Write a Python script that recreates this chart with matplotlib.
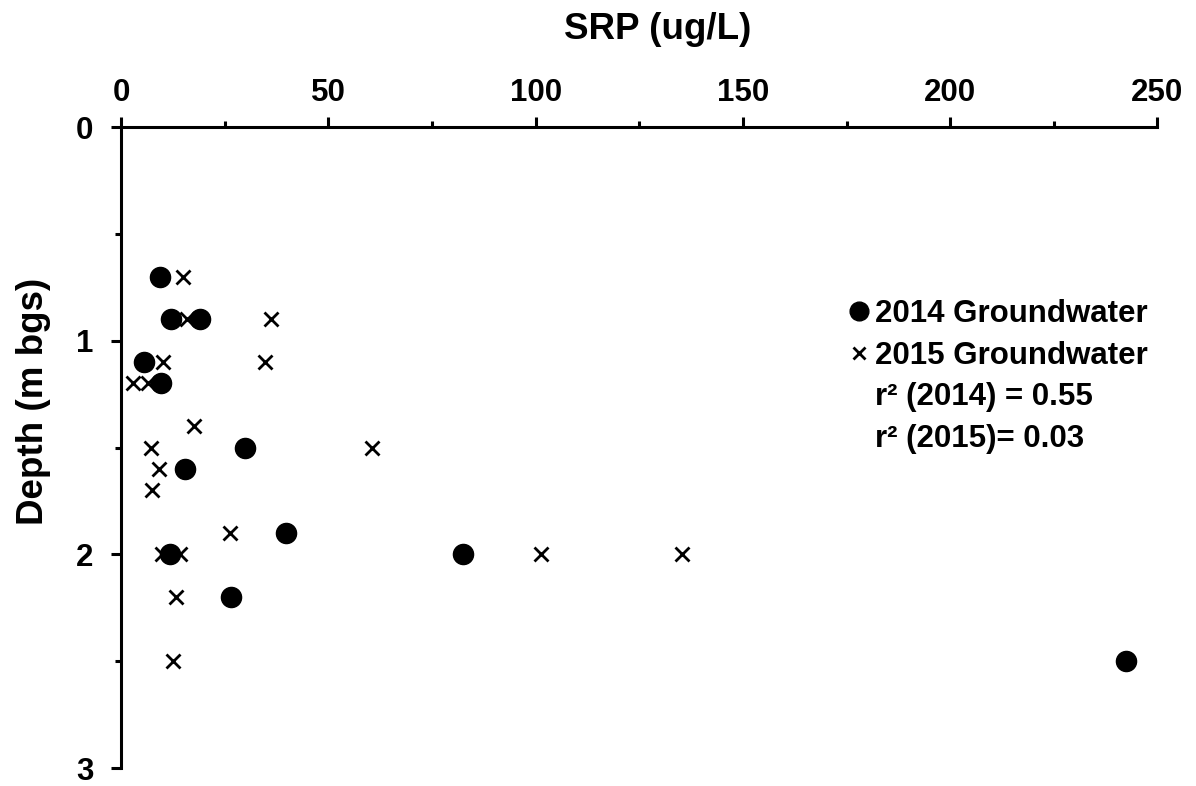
import numpy as np
import matplotlib.pyplot as plt
from matplotlib.lines import Line2D
from matplotlib.ticker import MultipleLocator

# SRP (ug/L) vs depth (m bgs)
srp_2014 = [9.4, 12.0, 19.0, 5.6, 9.6, 30.0, 15.4, 39.7, 11.7, 82.5, 26.5, 242.4]
depth_2014 = [0.7, 0.9, 0.9, 1.1, 1.2, 1.5, 1.6, 1.9, 2.0, 2.0, 2.2, 2.5]

srp_2015 = [15.0, 15.8, 36.1, 10.2, 34.7, 3.0, 6.6, 17.7, 7.2, 60.6, 9.2, 7.4,
            26.4, 9.8, 14.2, 101.3, 135.3, 13.3, 12.6]
depth_2015 = [0.7, 0.9, 0.9, 1.1, 1.1, 1.2, 1.2, 1.4, 1.5, 1.5, 1.6, 1.7,
              1.9, 2.0, 2.0, 2.0, 2.0, 2.2, 2.5]

legend_labels = ['2014 Groundwater', '2015 Groundwater',
                 'r² (2014) = 0.55', 'r² (2015)= 0.03']

plt.rcParams['font.family'] = 'Liberation Sans'
plt.rcParams['font.weight'] = 'bold'

fig = plt.figure(figsize=(11.96, 7.86), dpi=100)
ax = fig.add_axes([0.1012, 0.0229, 0.8666, 0.8155])

ax.plot(srp_2014, depth_2014, 'o', color='black', markersize=14.5, linestyle='none')
ax.plot(srp_2015, depth_2015, 'x', color='black', markersize=10, markeredgewidth=2,
        linestyle='none')

ax.set_xlim(0, 250)
ax.set_ylim(3, 0)
ax.xaxis.set_major_locator(MultipleLocator(50))
ax.xaxis.set_minor_locator(MultipleLocator(25))
ax.yaxis.set_major_locator(MultipleLocator(1))
ax.yaxis.set_minor_locator(MultipleLocator(0.5))

ax.xaxis.tick_top()
ax.xaxis.set_label_position('top')
for side in ['right', 'bottom']:
    ax.spines[side].set_visible(False)
for side in ['left', 'top']:
    ax.spines[side].set_linewidth(2.2)

ax.tick_params(which='major', length=7, width=2.2, labelsize=22.5, pad=7)
ax.tick_params(which='minor', length=4.3, width=2.2)
ax.tick_params(axis='y', pad=13)
for lbl in ax.get_xticklabels() + ax.get_yticklabels():
    lbl.set_fontweight('bold')

ax.set_xlabel('SRP (ug/L)', fontsize=26.5, fontweight='bold')
ax.set_ylabel('Depth (m bgs)', fontsize=26.5, fontweight='bold')
ax.xaxis.set_label_coords(0.518, 1.138)
ax.yaxis.set_label_coords(-0.068, 0.5725)

handles = [
    Line2D([], [], marker='o', color='black', linestyle='none', markersize=13.5),
    Line2D([], [], marker='x', color='black', linestyle='none', markersize=9,
           markeredgewidth=2),
    Line2D([], [], linestyle='none'),
    Line2D([], [], linestyle='none'),
]
leg = ax.legend(handles, legend_labels, loc='upper left',
                bbox_to_anchor=(0.676, 0.775), frameon=False,
                prop={'size': 22.5, 'weight': 'bold'},
                handlelength=0.6, handletextpad=0.2, labelspacing=0.37)

plt.savefig('out.png', dpi=100)
